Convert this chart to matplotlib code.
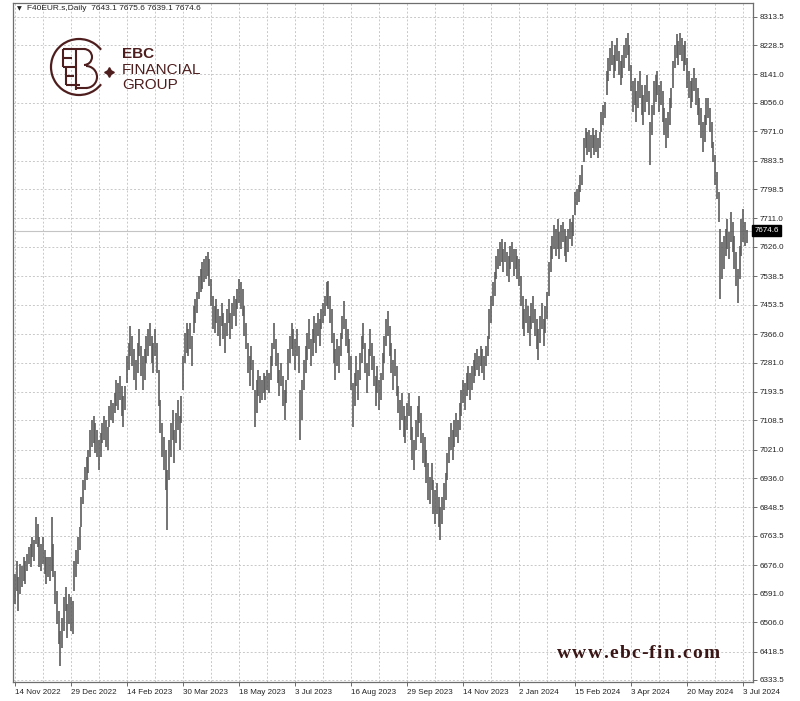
import matplotlib
matplotlib.use("Agg")
import matplotlib.pyplot as plt
from matplotlib.patches import Arc
from matplotlib.transforms import blended_transform_factory


# ───────────────────────── Данные ─────────────────────────
lows = [
    6560, 6600, 6540, 6590, 6610, 6630, 6620, 6660, 6680, 6670,
    6700, 6690, 6740, 6730, 6670, 6660, 6680, 6650, 6620, 6640,
    6630, 6660, 6640, 6560, 6500, 6440, 6375, 6430, 6480, 6540,
    6460, 6500, 6480, 6470, 6600, 6640, 6680, 6720, 6790, 6860,
    6900, 6930, 6950, 7000, 7030, 7040, 7010, 7000, 6960, 7000,
    7040, 7050, 7030, 7020, 7090, 7110, 7100, 7130, 7150, 7140,
    7170, 7120, 7090, 7140, 7220, 7260, 7300, 7270, 7230, 7200,
    7250, 7300, 7240, 7200, 7230, 7280, 7300, 7330, 7280, 7250,
    7300, 7250, 7150, 7070, 7000, 6960, 6900, 6780, 6930, 7000,
    7050, 6980, 7040, 7080, 7020, 7100, 7200, 7280, 7310, 7300,
    7320, 7270, 7370, 7400, 7430, 7470, 7490, 7500, 7520, 7530,
    7540, 7510, 7450, 7380, 7370, 7400, 7360, 7330, 7390, 7350,
    7310, 7360, 7400, 7350, 7380, 7420, 7390, 7440, 7460, 7440,
    7420, 7360, 7320, 7250, 7210, 7260, 7200, 7090, 7130, 7180,
    7160, 7170, 7190, 7170, 7200, 7190, 7230, 7270, 7320, 7270,
    7220, 7180, 7210, 7150, 7110, 7160, 7230, 7280, 7320, 7300,
    7260, 7300, 7250, 7050, 7110, 7200, 7250, 7290, 7320, 7270,
    7300, 7340, 7310, 7360, 7330, 7380, 7400, 7420, 7450, 7440,
    7400, 7340, 7280, 7230, 7270, 7250, 7300, 7350, 7380, 7330,
    7310, 7260, 7200, 7090, 7150, 7210, 7170, 7230, 7280, 7320,
    7250, 7190, 7240, 7300, 7260, 7210, 7150, 7190, 7140, 7170,
    7230, 7280, 7330, 7360, 7300, 7250, 7200, 7240, 7180, 7130,
    7080, 7110, 7060, 7040, 7080, 7120, 7050, 6990, 6960, 7020,
    7060, 7100, 7040, 6980, 6970, 6920, 6870, 6860, 6900, 6830,
    6800, 6830, 6790, 6750, 6800, 6840, 6870, 6930, 6980, 7020,
    6990, 7030, 7060, 7040, 7080, 7120, 7160, 7140, 7180, 7200,
    7170, 7200, 7220, 7240, 7260, 7240, 7270, 7250, 7230, 7270,
    7300, 7350, 7400, 7450, 7480, 7530, 7560, 7570, 7580, 7550,
    7580, 7540, 7520, 7560, 7580, 7540, 7560, 7530, 7510, 7450,
    7380, 7360, 7400, 7370, 7330, 7380, 7400, 7360, 7320, 7290,
    7340, 7380, 7330, 7370, 7410, 7480, 7550, 7590, 7620, 7600,
    7620, 7590, 7620, 7640, 7600, 7580, 7610, 7650, 7630, 7660,
    7720, 7750, 7760, 7790, 7810, 7880, 7920, 7900, 7910, 7890,
    7920, 7900, 7910, 7890, 7920, 7970, 7990, 8010, 8080, 8120,
    8150, 8170, 8130, 8150, 8180, 8140, 8110, 8130, 8160, 8190,
    8200, 8150, 8090, 8030, 8050, 8000, 8040, 8070, 8020, 7990,
    8030, 8060, 8020, 7870, 7960, 8020, 8060, 8080, 8030, 8050,
    8000, 7960, 7920, 7950, 7990, 8040, 8100, 8160, 8190, 8170,
    8200, 8180, 8150, 8170, 8100, 8070, 8040, 8060, 8090, 8050,
    8020, 7990, 7950, 7910, 7940, 7990, 8010, 7970, 7920, 7880,
    7810, 7770, 7700, 7470, 7530, 7560, 7600, 7620, 7590, 7640,
    7610, 7560, 7510, 7460, 7530, 7600, 7640, 7630, 7639.1,
]

highs = [
    6650, 6690, 6640, 6680, 6675, 6700, 6690, 6710, 6730, 6740,
    6760, 6750, 6820, 6800, 6760, 6740, 6760, 6720, 6700, 6700,
    6700, 6820, 6740, 6660, 6600, 6540, 6480, 6520, 6580, 6610,
    6560, 6590, 6580, 6570, 6690, 6720, 6760, 6790, 6880, 6930,
    6970, 7000, 7020, 7080, 7110, 7120, 7100, 7080, 7050, 7070,
    7100, 7120, 7110, 7090, 7150, 7170, 7160, 7190, 7230, 7220,
    7240, 7210, 7180, 7210, 7300, 7340, 7390, 7360, 7320, 7290,
    7340, 7380, 7330, 7300, 7320, 7360, 7380, 7400, 7360, 7340,
    7380, 7340, 7260, 7170, 7100, 7060, 7020, 6960, 7050, 7100,
    7140, 7080, 7130, 7170, 7120, 7180, 7300, 7370, 7400, 7380,
    7400, 7360, 7450, 7470, 7490, 7540, 7560, 7580, 7590, 7600,
    7610, 7590, 7530, 7480, 7450, 7470, 7440, 7420, 7460, 7430,
    7400, 7440, 7470, 7430, 7460, 7480, 7470, 7500, 7530, 7520,
    7500, 7450, 7400, 7340, 7300, 7330, 7290, 7200, 7230, 7260,
    7240, 7230, 7250, 7240, 7260, 7250, 7300, 7340, 7400, 7350,
    7310, 7260, 7280, 7240, 7200, 7230, 7320, 7360, 7400, 7380,
    7350, 7380, 7330, 7200, 7230, 7290, 7330, 7370, 7410, 7350,
    7380, 7420, 7400, 7430, 7410, 7440, 7460, 7480, 7520, 7525,
    7480, 7440, 7370, 7320, 7350, 7330, 7370, 7420, 7465, 7410,
    7380, 7350, 7300, 7220, 7250, 7300, 7260, 7310, 7360, 7400,
    7340, 7280, 7320, 7380, 7340, 7300, 7240, 7270, 7230, 7250,
    7310, 7360, 7410, 7435, 7390, 7340, 7290, 7320, 7270, 7210,
    7170, 7190, 7150, 7120, 7160, 7190, 7150, 7090, 7050, 7110,
    7150, 7180, 7130, 7070, 7060, 7020, 6980, 6940, 6980, 6930,
    6900, 6920, 6880, 6850, 6880, 6920, 6950, 7010, 7060, 7100,
    7080, 7110, 7130, 7110, 7160, 7200, 7230, 7220, 7250, 7270,
    7250, 7270, 7290, 7310, 7320, 7300, 7330, 7320, 7300, 7330,
    7360, 7440, 7480, 7520, 7550, 7600, 7620, 7640, 7650, 7620,
    7640, 7610, 7600, 7630, 7640, 7620, 7620, 7600, 7590, 7540,
    7480, 7440, 7470, 7450, 7420, 7460, 7480, 7440, 7410, 7380,
    7420, 7460, 7410, 7450, 7490, 7580, 7630, 7660, 7690, 7680,
    7710, 7670, 7690, 7700, 7680, 7660, 7680, 7710, 7700, 7720,
    7790, 7800, 7810, 7840, 7870, 7950, 7980, 7970, 7975, 7960,
    7980, 7960, 7975, 7950, 7970, 8030, 8050, 8060, 8150, 8190,
    8220, 8240, 8200, 8230, 8250, 8210, 8180, 8200, 8230, 8250,
    8265, 8230, 8170, 8120, 8130, 8090, 8120, 8150, 8110, 8080,
    8110, 8140, 8090, 8000, 8050, 8120, 8140, 8150, 8110, 8120,
    8090, 8040, 8010, 8030, 8070, 8100, 8180, 8230, 8260, 8240,
    8265, 8250, 8230, 8240, 8190, 8150, 8120, 8130, 8160, 8130,
    8100, 8070, 8040, 8000, 8020, 8070, 8070, 8040, 8000, 7940,
    7900, 7850, 7790, 7680, 7640, 7660, 7680, 7710, 7670, 7730,
    7700, 7660, 7610, 7560, 7630, 7710, 7740, 7700, 7675.6,
]

date_labels = [
    "14 Nov 2022", "29 Dec 2022", "14 Feb 2023", "30 Mar 2023", "18 May 2023",
    "3 Jul 2023", "16 Aug 2023", "29 Sep 2023", "14 Nov 2023", "2 Jan 2024",
    "15 Feb 2024", "3 Apr 2024", "20 May 2024", "3 Jul 2024",
]
price_ticks = [
    8313.5, 8228.5, 8141.0, 8056.0, 7971.0, 7883.5, 7798.5, 7711.0,
    7626.0, 7538.5, 7453.5, 7366.0, 7281.0, 7193.5, 7108.5, 7021.0,
    6936.0, 6848.5, 6763.5, 6676.0, 6591.0, 6506.0, 6418.5, 6333.5,
]
last_ohlc = [7643.1, 7675.6, 7639.1, 7674.6]  # O H L C последнего бара

BAR_STEP = 32          # подпись даты каждые 32 бара
MAROON = "#4e1d1d"
FONT = "Liberation Sans"

# ─────────────────────────────── Рисунок ────────────────────────────────────
fig = plt.figure(figsize=(8, 7.01), dpi=100)
ax = fig.add_axes([13 / 800, 19 / 701, 740 / 800, 679 / 701])

idx = list(range(len(highs)))
ax.vlines(idx, lows, highs, color="#5c5c5c", linewidth=1.2, zorder=3)

# текущая цена
ax.axhline(last_ohlc[3], color="#c4c4c4", linewidth=0.8, zorder=2)
trans = blended_transform_factory(ax.transAxes, ax.transData)
ax.text(1.002, last_ohlc[3], f"{last_ohlc[3]:.1f}", transform=trans,
        ha="left", va="center", fontsize=5.8, family=FONT, color="white",
        bbox=dict(boxstyle="square,pad=0.25", fc="black", ec="black"), zorder=5)

# оси
ax.yaxis.tick_right()
ax.set_yticks(price_ticks)
ax.set_yticklabels([f"{p:.1f}" for p in price_ticks])
major_x = [i * BAR_STEP for i in range(len(date_labels))]
ax.set_xticks(major_x)
ax.set_xticklabels(date_labels)
ax.set_xticks([m + BAR_STEP / 2 for m in major_x[:-1]], minor=True)
# пределы задаём после тиков, иначе set_xticks расширяет вид
ax.set_xlim(-1.14, 421.7)
ax.set_ylim(6327.5, 8354)

ax.tick_params(axis="y", which="major", length=3, width=0.6, pad=2,
               labelsize=5.8, labelcolor="#222222", color="#555555")
ax.tick_params(axis="x", which="major", length=3, width=0.6, pad=2,
               labelsize=5.8, labelcolor="#222222", color="#555555")
ax.tick_params(axis="x", which="minor", length=0)
for lbl in ax.get_xticklabels() + ax.get_yticklabels():
    lbl.set_family(FONT)
for lbl in ax.get_xticklabels():
    lbl.set_horizontalalignment("left")

ax.grid(True, axis="y", which="major", color="#c8c8c8", linestyle=(0, (2, 2)), linewidth=0.7)
ax.grid(True, axis="x", which="both", color="#c8c8c8", linestyle=(0, (2, 2)), linewidth=0.7)
ax.set_axisbelow(True)
for sp in ax.spines.values():
    sp.set_color("#6e6e6e")
    sp.set_linewidth(0.9)

# заголовок
fig.text(17 / 800, 1 - 9 / 701, "\u25bc", fontsize=4.5, family="DejaVu Sans",
         color="#222222", va="center")
fig.text(27 / 800, 1 - 9 / 701,
         "F40EUR.s,Daily  " + " ".join(f"{v:.1f}" for v in last_ohlc),
         fontsize=6.0, family=FONT, color="#222222", va="center")

# ─────────────────────── Логотип и водяной знак ─────────────────────────────
ov = fig.add_axes([0, 0, 1, 1])
ov.set_xlim(0, 800)
ov.set_ylim(701, 0)
ov.axis("off")
ov.patch.set_alpha(0)

ov.add_patch(Arc((79, 67), 56, 56, theta1=38, theta2=322, color=MAROON, lw=1.6))
# монограмма
seg = [
    ((63, 49), (63, 67)), ((63, 49), (75, 49)), ((63, 58), (72, 58)),
    ((66, 67), (66, 85)), ((63, 67), (76, 67)), ((66, 85), (80, 85)),
    ((66, 76), (74, 76)), ((76, 49), (76, 90)),
]
for (x0, y0), (x1, y1) in seg:
    ov.plot([x0, x1], [y0, y1], color=MAROON, lw=1.5, solid_capstyle="butt")
ov.add_patch(Arc((84, 57), 16, 16, theta1=-90, theta2=90, color=MAROON, lw=1.5))
ov.add_patch(Arc((86, 77), 22, 22, theta1=-90, theta2=90, color=MAROON, lw=1.5))
ov.plot([76, 84], [49, 49], color=MAROON, lw=1.5)
ov.plot([76, 86], [88, 88], color=MAROON, lw=1.5)
ov.plot([109], [72], marker=(4, 1, 0), markersize=7, color=MAROON)

ov.text(122, 54, "EBC", fontsize=11, weight="bold", family=FONT, color=MAROON, va="center")
ov.text(122, 70, "FINANCIAL", fontsize=11, family=FONT, color=MAROON, va="center")
ov.text(122, 85, "GROUP", fontsize=11, family=FONT, color=MAROON, va="center")

# водяной знак с разрядкой: буквы ставим по одной
renderer = fig.canvas.get_renderer()
wm = "www.ebc-fin.com"
cx = 557.0
for ch in wm:
    t = ov.text(cx, 654, ch, fontsize=14, weight="bold", family="Liberation Serif",
                color="#3a1616", ha="left", va="center")
    w = t.get_window_extent(renderer).width
    cx += w + 1.3

fig.savefig("out.png", dpi=100)
